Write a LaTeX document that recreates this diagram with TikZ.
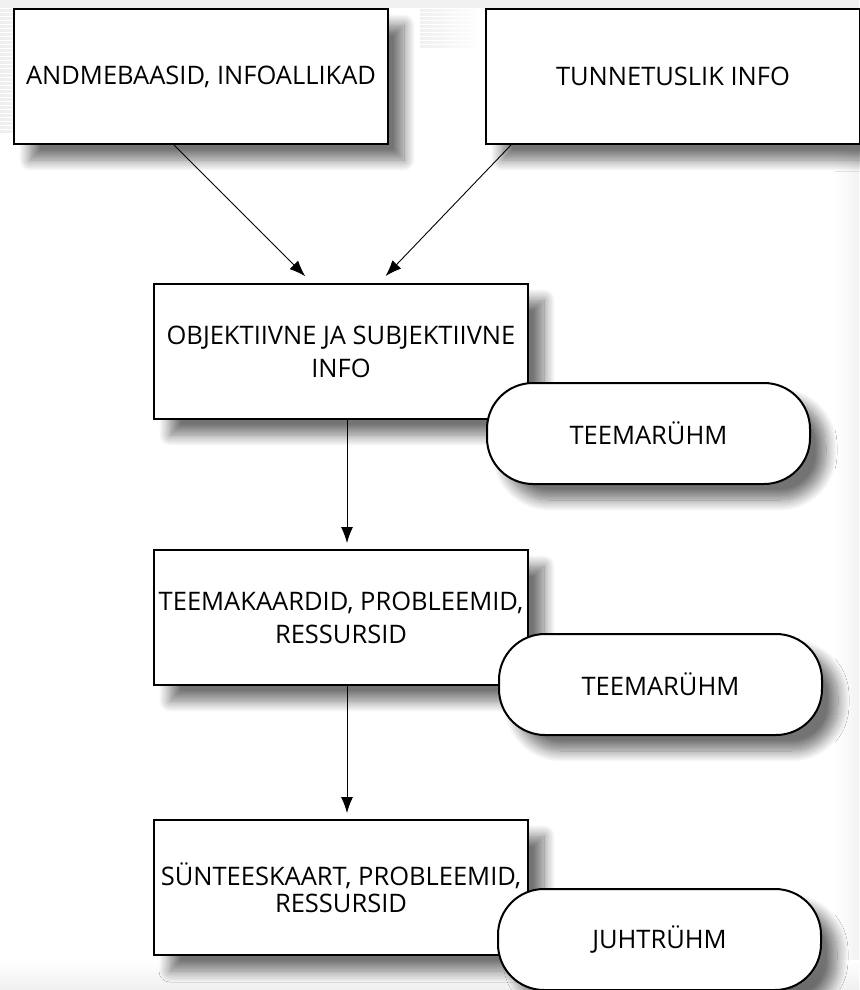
\documentclass[tikz,border=0pt]{standalone}
\usepackage{fontspec}
\setmainfont{Open Sans}
\usepackage{tikz}
\usetikzlibrary{arrows.meta,shadows.blur}

\begin{document}
\begin{tikzpicture}[x=1pt,y=-1pt,inner sep=0pt,outer sep=0pt,
    every node/.style={font=\fontsize{25.5}{33}\selectfont, align=center},
    info_box/.style={draw, line width=2pt, fill=white, minimum width=374pt, minimum height=135pt,
        blur shadow={shadow xshift=16pt, shadow yshift=-16pt, shadow blur radius=11pt,
        shadow blur steps=14, shadow opacity=55}},
    group_box/.style={info_box, rounded corners=46pt, minimum width=323pt, minimum height=101pt},
    flow/.style={-{Latex[length=16pt,width=12pt]}, line width=0.9pt, shorten >=7pt}]
    \useasboundingbox (0,0) rectangle (859,990);
    % 
    \fill[gray!12] (0,0) rectangle (859,8);
    \foreach \y in {10,14,...,130}
        \shade[left color=gray!14, right color=white] (0,\y) rectangle (45,\y+2);
    \foreach \y in {10,14,...,46}
        \shade[left color=gray!12, right color=white] (420,\y) rectangle (484,\y+2);
    \shade[left color=white, right color=gray!10] (835,150) rectangle (859,990);
    \shade[top color=white, bottom color=red!4!gray!12] (0,960) rectangle (859,990);
    % 
    \node[info_box, anchor=north west] (andmed) at (14,9) {ANDMEBAASID, INFOALLIKAD};
    \node[info_box, anchor=north west] (tunnetus) at (486,9) {TUNNETUSLIK INFO};
    \node[info_box, anchor=north west] (obj_subj) at (154,284) {OBJEKTIIVNE JA SUBJEKTIIVNE\\INFO};
    \node[group_box, anchor=north west] (teema_1) at (487,383) {TEEMARÜHM};
    \node[info_box, anchor=north west] (teemakaart) at (154,550) {TEEMAKAARDID, PROBLEEMID,\\RESSURSID};
    \node[group_box, anchor=north west] (teema_2) at (499,634) {TEEMARÜHM};
    \node[info_box, anchor=north west] (syntees) at (154,820) {\raisebox{-5pt}[\height][\depth]{\begin{tabular}{@{}c@{}}SÜNTEESKAART, PROBLEEMID,\\[-6pt]RESSURSID\end{tabular}}};
    \node[group_box, anchor=north west] (juht) at (498,889) {JUHTRÜHM};
    % 
    \draw[flow, shorten >=11pt] ([xshift=-28pt]andmed.south) -- ([xshift=-28pt]obj_subj.north);
    \draw[flow, shorten >=11pt] ([xshift=-161pt]tunnetus.south) -- ([xshift=37pt]obj_subj.north);
    \draw[flow] ([xshift=6pt]obj_subj.south) -- ([xshift=6pt]teemakaart.north);
    \draw[flow] ([xshift=6pt]teemakaart.south) -- ([xshift=6pt]syntees.north);

\end{tikzpicture}
\end{document}
